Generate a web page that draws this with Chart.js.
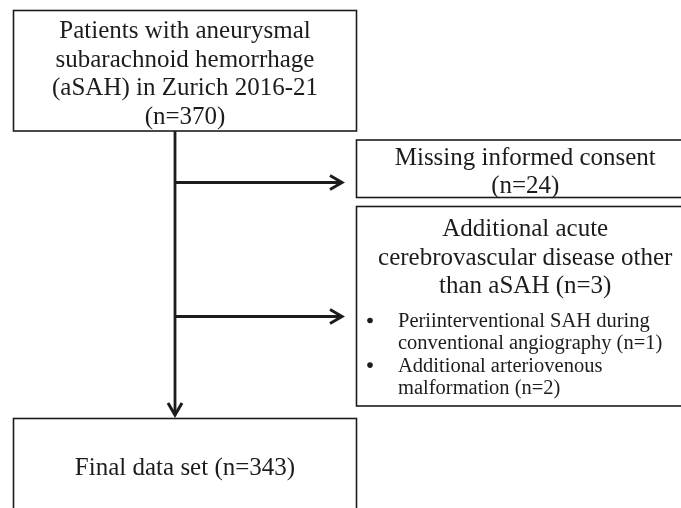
<!DOCTYPE html>
<html>
<head>
<meta charset="utf-8">
<script src="https://cdn.jsdelivr.net/npm/chart.js@4.4.1/dist/chart.umd.min.js"></script>
<style>
html,body{margin:0;padding:0;background:#fff;}
canvas{display:block;}
</style>
</head>
<body>
<canvas id="c" width="681" height="508"></canvas>
<script>
// ---- data ----
const totalN = 370;
const excludedCounts = [24, 3];
const subCounts = [1, 2];
const finalN = 343;
const studyPlace = "Zurich";
const studyYears = "2016-21";
const box1Lines = ["Patients with aneurysmal", "subarachnoid hemorrhage", "(aSAH) in " + studyPlace + " " + studyYears, "(n=" + totalN + ")"];
const box2Lines = ["Missing informed consent", "(n=" + excludedCounts[0] + ")"];
const box3Lines = ["Additional acute", "cerebrovascular disease other", "than aSAH (n=" + excludedCounts[1] + ")"];
const bulletLines = [
  ["Periinterventional SAH during", "conventional angiography (n=" + subCounts[0] + ")"],
  ["Additional arteriovenous", "malformation (n=" + subCounts[1] + ")"]
];
const box4Lines = ["Final data set (n=" + finalN + ")"];

// ---- layout (chart units) ----
const boxes = [
  {x0: 13.5, x1: 356.5, y0: 10.5, y1: 131, lines: box1Lines, base: 38, step: 28.6},
  {x0: 356.5, x1: 694, y0: 140, y1: 197.5, lines: box2Lines, base: 165, step: 28.3},
  {x0: 356.5, x1: 694, y0: 206.5, y1: 406, lines: box3Lines, base: 236, step: 28.7},
  {x0: 13.5, x1: 356.5, y0: 418.5, y1: 530, lines: box4Lines, base: 475, step: 28}
];
const bulletLayout = {bx: 370, tx: 398, base: 327, step: 22.3};
const mainX = 175;
const connectors = [
  [{x: mainX, y: 131}, {x: mainX, y: 414}],
  [{x: mainX, y: 182.5}, {x: 341, y: 182.5}],
  [{x: mainX, y: 316.5}, {x: 341, y: 316.5}]
];
const arrowTips = [
  {x: 342, y: 182.5, dir: 'right'},
  {x: 342, y: 316.5, dir: 'right'},
  {x: mainX, y: 415, dir: 'down'}
];

const ink = '#1c1c1c';
const mainFont = '25px "Liberation Serif", "Times New Roman", serif';
const smallFont = '20.5px "Liberation Serif", "Times New Roman", serif';

const flowPlugin = {
  id: 'flow',
  afterDatasetsDraw(chart) {
    const ctx = chart.ctx;
    const xs = chart.scales.x, ys = chart.scales.y;
    const px = v => xs.getPixelForValue(v);
    const py = v => ys.getPixelForValue(v);
    ctx.save();
    // boxes
    ctx.strokeStyle = ink;
    ctx.lineWidth = 1.6;
    boxes.forEach(b => {
      ctx.strokeRect(px(b.x0), py(b.y0), px(b.x1) - px(b.x0), py(b.y1) - py(b.y0));
    });
    // text
    ctx.fillStyle = ink;
    ctx.font = mainFont;
    ctx.textAlign = 'center';
    ctx.textBaseline = 'alphabetic';
    boxes.forEach(b => {
      const cx = (px(b.x0) + px(b.x1)) / 2;
      b.lines.forEach((t, i) => ctx.fillText(t, cx, py(b.base + i * b.step)));
    });
    // bullets
    ctx.font = smallFont;
    ctx.textAlign = 'left';
    let k = 0;
    bulletLines.forEach(group => {
      group.forEach((t, j) => {
        const y = py(bulletLayout.base + k * bulletLayout.step);
        if (j === 0) {
          ctx.beginPath();
          ctx.arc(px(bulletLayout.bx), y - 6.5, 2.8, 0, Math.PI * 2);
          ctx.fill();
        }
        ctx.fillText(t, px(bulletLayout.tx), y);
        k++;
      });
    });
    // arrowheads
    ctx.lineWidth = 3;
    ctx.lineJoin = 'miter';
    ctx.lineCap = 'butt';
    arrowTips.forEach(a => {
      const x = px(a.x), y = py(a.y);
      ctx.beginPath();
      if (a.dir === 'right') {
        ctx.moveTo(x - 12, y - 7);
        ctx.lineTo(x, y);
        ctx.lineTo(x - 12, y + 7);
      } else {
        ctx.moveTo(x - 7, y - 12);
        ctx.lineTo(x, y);
        ctx.lineTo(x + 7, y - 12);
      }
      ctx.stroke();
    });
    ctx.restore();
  }
};

new Chart(document.getElementById('c'), {
  type: 'scatter',
  data: {
    datasets: connectors.map(pts => ({
      data: pts,
      showLine: true,
      borderColor: ink,
      borderWidth: 2.8,
      pointRadius: 0,
      fill: false
    }))
  },
  options: {
    responsive: false,
    animation: false,
    devicePixelRatio: 1,
    layout: {padding: 0},
    plugins: {legend: {display: false}, tooltip: {enabled: false}},
    events: [],
    scales: {
      x: {type: 'linear', min: 0, max: 681, display: false},
      y: {type: 'linear', min: 0, max: 508, reverse: true, display: false}
    }
  },
  plugins: [flowPlugin]
});
</script>
</body>
</html>
